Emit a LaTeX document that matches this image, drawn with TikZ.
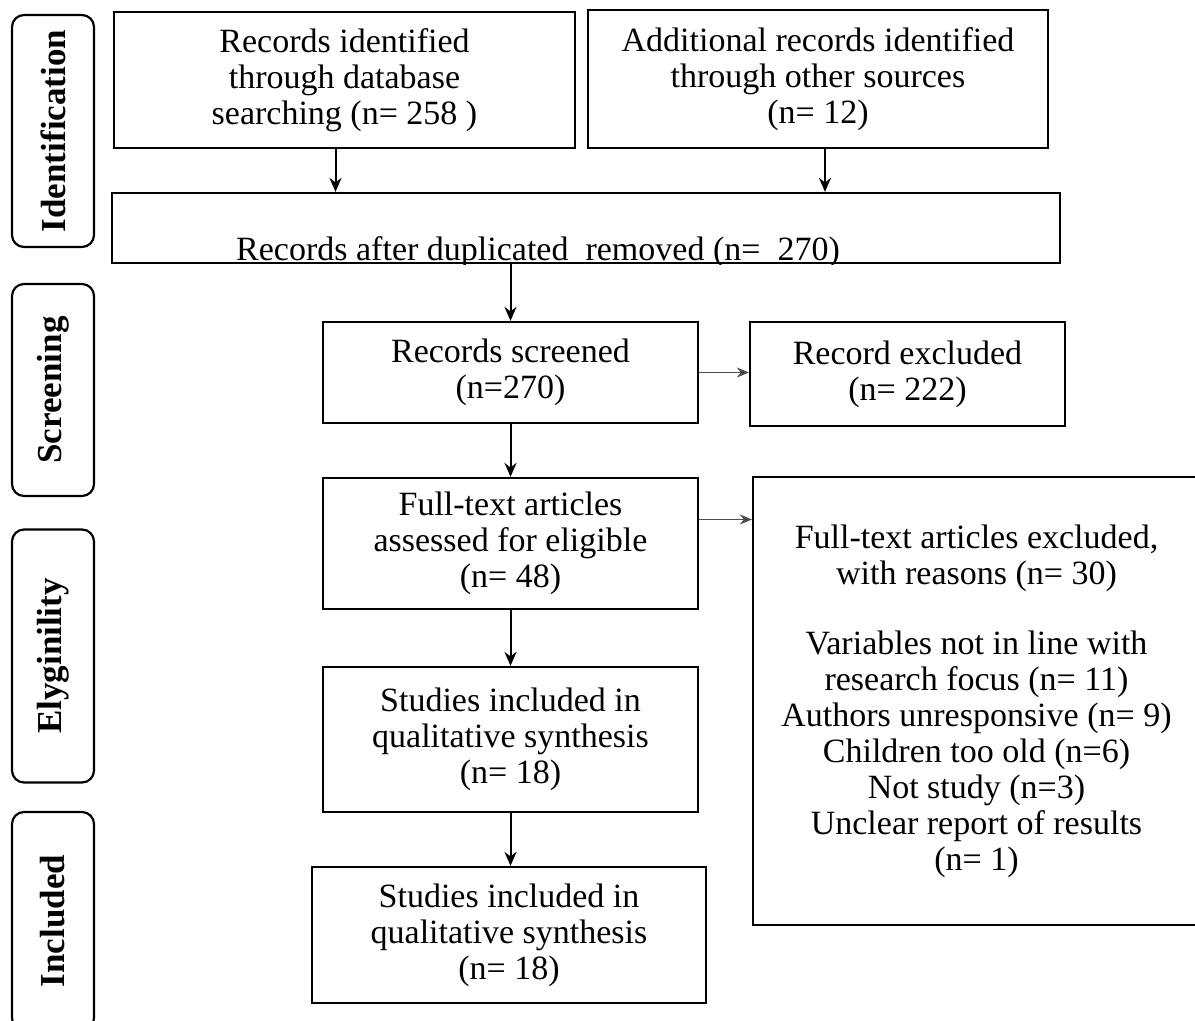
\documentclass[tikz,border=0pt]{standalone}
\usepackage{fontspec}
\setmainfont{Liberation Serif}
\usetikzlibrary{arrows.meta}

\begin{document}
\begin{tikzpicture}[
  x=0.5pt, y=-0.5pt,
  every node/.style = {font=\fontsize{17}{18}\selectfont},
  box/.style        = {draw, line width=1.1pt, align=center, inner sep=2pt},
  phase/.style      = {draw, line width=1.1pt, rounded corners=6pt, rotate=90,
                       minimum height=41pt, inner sep=2pt,
                       font=\fontsize{17.5}{18}\selectfont\bfseries},
  arrow/.style      = {line width=1pt, -{Stealth[length=7pt,width=6pt]}},
  sidearrow/.style  = {line width=0.8pt, draw=black!70,
                       -{Stealth[length=6pt,width=5pt,fill=black!85]}},
                       % the exclusions branch off to the right, lighter
]
  \useasboundingbox (0,0) rectangle (1195,1021);

  % phases down the left margin
  \node[phase, minimum width=116pt]   (idlab)  at (53,131)  {Identification};
  \node[phase, minimum width=106pt]   (scrlab) at (53,390)  {Screening};
  \node[phase, minimum width=126.5pt] (elilab) at (53,656)  {Elyginility};
  \node[phase, minimum width=109pt]   (inclab) at (53,921)  {Included};

  \node[box, minimum width=230.5pt, minimum height=68pt] (ident) at (344.5,80)
    {Records identified\\through database\\searching (n= 258 )};
  \node[box, minimum width=230pt, minimum height=69pt] (other) at (818,79)
    {Additional records identified\\through other sources\\(n= 12)};
  \node[box, minimum width=474pt, minimum height=35pt] (dedup) at (586,228) {};
  \begin{scope}
    \clip (dedup.south west) rectangle (dedup.north east);
    \node[anchor=base] (deduptxt) at (538,261)
      {Records after duplicated~ removed (n=~ 270)};
  \end{scope}

  \node[box, minimum width=187.5pt, minimum height=50.5pt] (screen) at (510.5,372.5)
    {Records screened\\(n=270)};
  \node[box, minimum width=157.5pt, minimum height=52pt] (excl) at (907.5,374)
    {Record excluded\\(n= 222)};
  \node[box, minimum width=187.5pt, minimum height=65.5pt] (full) at (510.5,543.5)
    {Full-text articles\\assessed for eligible\\(n= 48)};
  \node[box, minimum width=223.5pt, minimum height=224pt] (fullexcl) at (976.5,701)
    {Full-text articles excluded,\\with reasons (n= 30)\\[17pt]
     Variables not in line with\\research focus (n= 11)\\
     Authors unresponsive (n= 9)\\Children too old (n=6)\\Not study (n=3)\\
     Unclear report of results\\(n= 1)};
  \node[box, minimum width=187.5pt, minimum height=72.5pt] (qual) at (510.5,739.5)
    {Studies included in\\qualitative synthesis\\(n= 18)};
  \node[box, minimum width=197pt, minimum height=68pt] (incl) at (509,935)
    {Studies included in\\qualitative synthesis\\(n= 18)};

  \draw[arrow] ([xshift=-4.5pt]ident.south) -- ([xshift=-4.5pt]ident.south |- dedup.north);
  \draw[arrow] ([xshift=3.5pt]other.south) -- ([xshift=3.5pt]other.south |- dedup.north);
  \draw[arrow] (dedup.south -| screen.north) -- (screen.north);
  \draw[sidearrow] (screen.east) -- (screen.east -| excl.west);
  \draw[arrow] (screen.south) -- (full.north);
  \draw[sidearrow] ([yshift=12pt]full.east) -- ([yshift=12pt]full.east -| fullexcl.west);
  \draw[arrow] (full.south) -- (qual.north);
  \draw[arrow] (qual.south) -- (qual.south |- incl.north);
\end{tikzpicture}
\end{document}
